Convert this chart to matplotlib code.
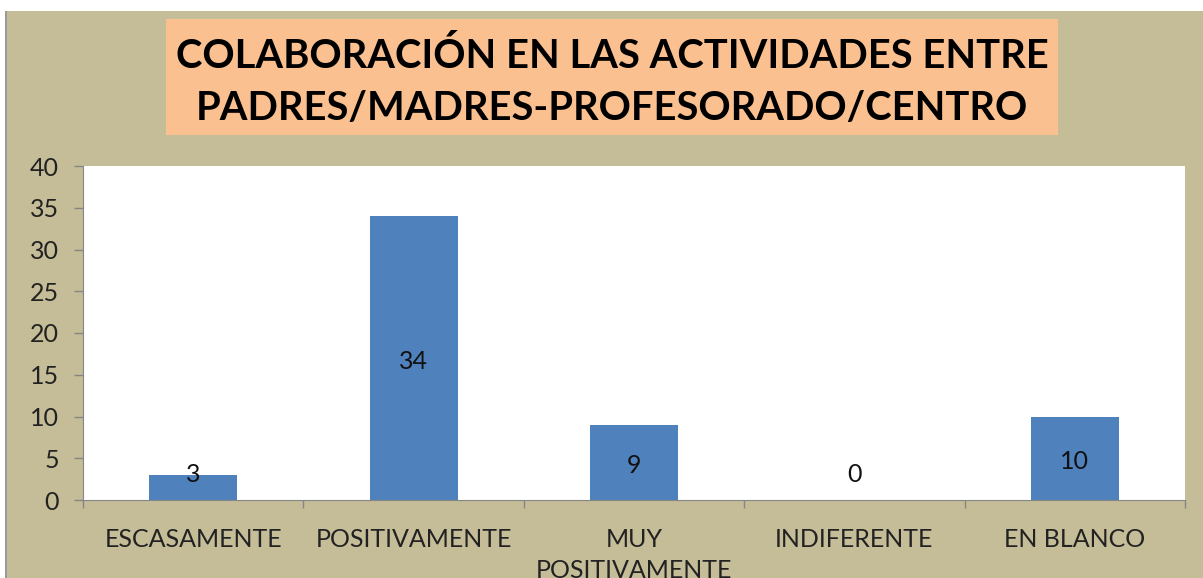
import matplotlib.pyplot as plt
from matplotlib.patches import Rectangle

categories = ["ESCASAMENTE", "POSITIVAMENTE", "MUY\nPOSITIVAMENTE", "INDIFERENTE", "EN BLANCO"]
values = [3, 34, 9, 0, 10]
yticks = [0, 5, 10, 15, 20, 25, 30, 35, 40]
title = "COLABORACIÓN EN LAS ACTIVIDADES ENTRE\nPADRES/MADRES-PROFESORADO/CENTRO"

W, H = 1203, 578
tan = "#C4BD97"
peach = "#FAC090"
blue = "#4F81BD"
axis_grey = "#868686"

plt.rcParams['font.family'] = ['Lato', 'DejaVu Sans']

fig = plt.figure(figsize=(W / 100, H / 100), dpi=100, facecolor="white")

# chart background (tan) and left border
fig.patches.append(Rectangle((7 / W, 0), 1 - 7 / W, (H - 11) / H, transform=fig.transFigure,
                             facecolor=tan, edgecolor="none", zorder=-2))
fig.patches.append(Rectangle((5 / W, 0), 2 / W, (H - 11) / H, transform=fig.transFigure,
                             facecolor="#9a9a9a", edgecolor="none", zorder=-2))

# title box
bx0, bx1, by0, by1 = 166, 1058, 19, 135
fig.patches.append(Rectangle((bx0 / W, 1 - by1 / H), (bx1 - bx0) / W, (by1 - by0) / H,
                             transform=fig.transFigure, facecolor=peach, edgecolor="none", zorder=-1))
fig.text((bx0 + bx1) / 2 / W, 1 - ((by0 + by1) / 2 + 5) / H, title, ha="center", va="center",
         fontsize=28.7, fontweight="bold", linespacing=1.52, color="black", zorder=2)

left, right, top, bottom = 83, 1185, 166, 500
ax = fig.add_axes([left / W, 1 - bottom / H, (right - left) / W, (bottom - top) / H], zorder=3)
ax.set_facecolor("white")

x = list(range(len(categories)))
ax.bar(x, values, width=0.4, color=blue, zorder=2)
ax.set_xlim(-0.5, len(categories) - 0.5)
ax.set_ylim(0, 40)
ax.set_yticks(yticks)
ax.tick_params(axis="y", length=6.5, width=1, color=axis_grey, labelsize=18, labelcolor="#222222", pad=11)

ax.set_xticks(x)
ax.set_xticklabels(categories)
ax.tick_params(axis="x", length=0, labelsize=18, labelcolor="#222222", pad=20)
for lbl in ax.get_xticklabels():
    lbl.set_verticalalignment("top")
    lbl.set_linespacing(1.45)
ax.set_xticks([i - 0.5 for i in range(len(categories) + 1)], minor=True)
ax.tick_params(axis="x", which="minor", length=5.8, width=1, color=axis_grey)

for side in ["top", "right"]:
    ax.spines[side].set_visible(False)
ax.spines["left"].set_color(axis_grey)
ax.spines["bottom"].set_color(axis_grey)

for xi, v in zip(x, values):
    ax.text(xi, max(v / 2, 3.4) - 0.4, str(v), ha="center", va="center", fontsize=18, color="#111111", zorder=3)

fig.savefig("out.png", dpi=100, facecolor=fig.get_facecolor())
